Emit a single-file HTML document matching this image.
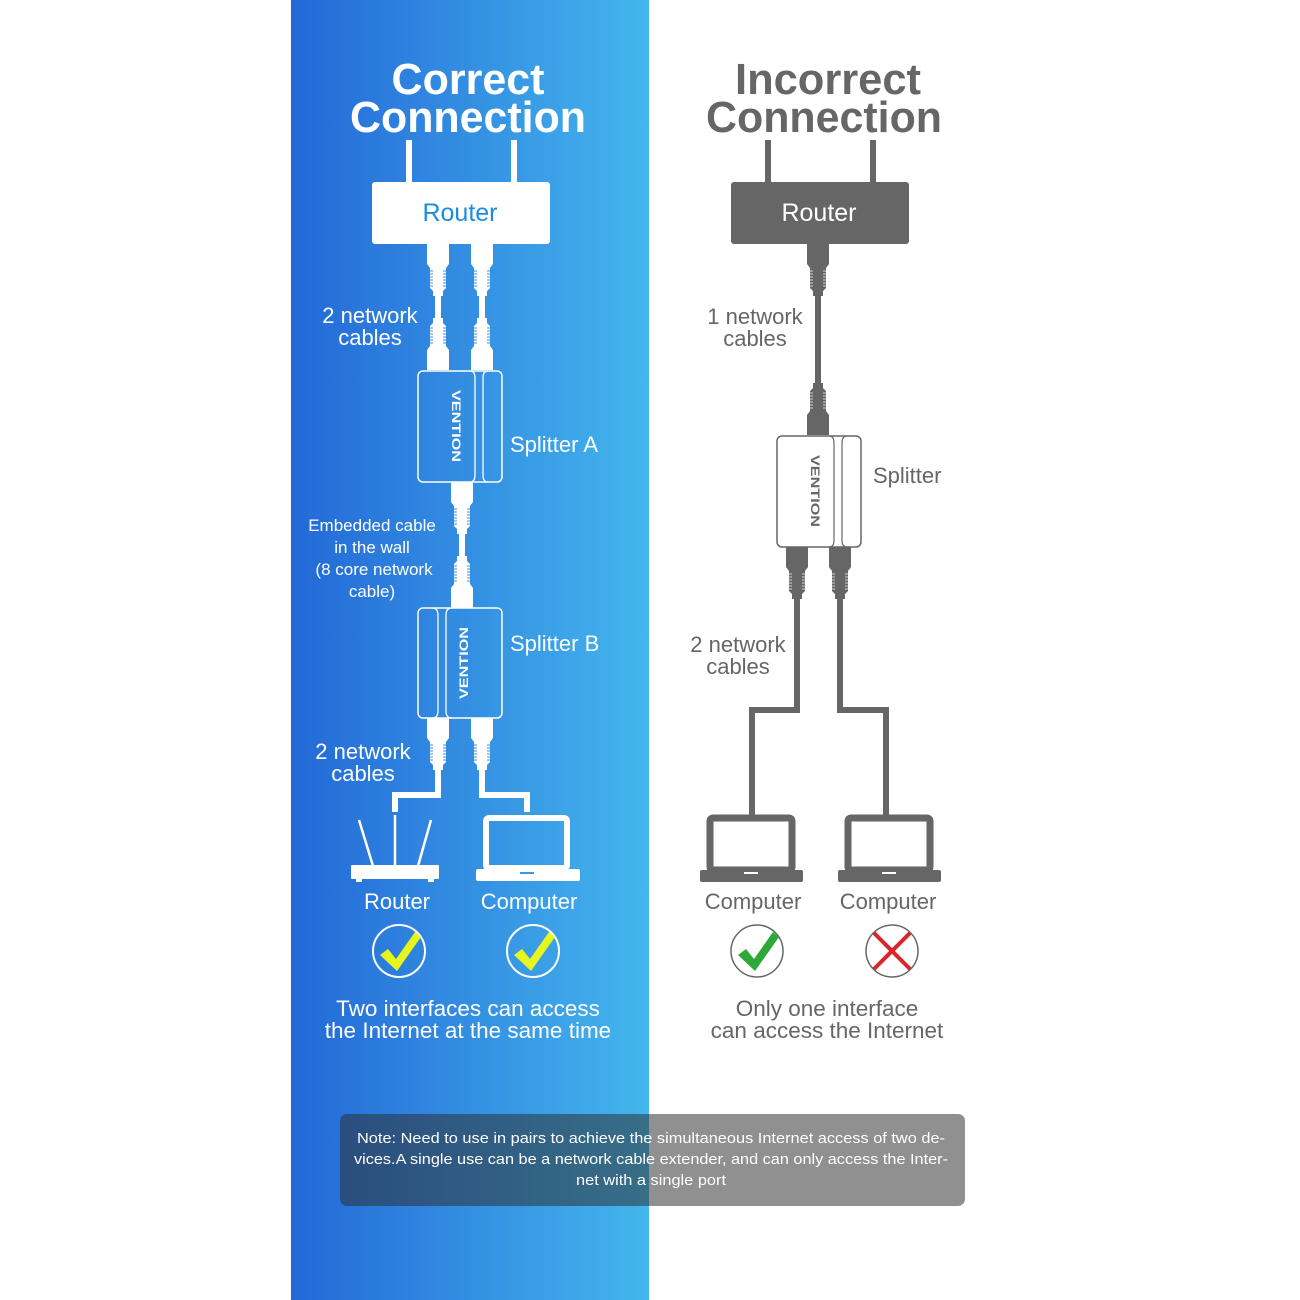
<!DOCTYPE html>
<html><head><meta charset="utf-8"><style>
html,body{margin:0;padding:0;background:#fff;}
svg{display:block;}
text{font-family:"Liberation Sans",sans-serif;}
</style></head><body>
<svg width="1300" height="1300" viewBox="0 0 1300 1300" xmlns="http://www.w3.org/2000/svg">
<defs>
<linearGradient id="bg" x1="0" y1="0" x2="1" y2="0">
<stop offset="0" stop-color="#2368d7"/><stop offset="1" stop-color="#44b6ed"/>
</linearGradient>
<g id="plugW">
<path d="M-11,0 H11 V20 L8,24 V44 L5,47 V52 H-5 V47 L-8,44 V24 L-11,20 Z" fill="#fff"/>
<g stroke="#3b8fe0" stroke-width="1">
<path d="M-8,27h3M-8,30h3M-8,33h3M-8,36h3M-8,39h3M-8,42h3M5,27h3M5,30h3M5,33h3M5,36h3M5,39h3M5,42h3"/>
</g>
</g>
<g id="plugG">
<path d="M-11,0 H11 V20 L8,24 V44 L5,47 V52 H-5 V47 L-8,44 V24 L-11,20 Z" fill="#666"/>
<g stroke="#fff" stroke-width="1" opacity="0.7">
<path d="M-8,27h3M-8,30h3M-8,33h3M-8,36h3M-8,39h3M-8,42h3M5,27h3M5,30h3M5,33h3M5,36h3M5,39h3M5,42h3"/>
</g>
</g>
</defs>
<rect width="1300" height="1300" fill="#fff"/>
<rect x="291" y="0" width="358" height="1300" fill="url(#bg)"/>

<text x="468" y="94" fill="#fff" font-size="44" font-weight="bold" text-anchor="middle" textLength="153" lengthAdjust="spacingAndGlyphs">Correct</text>
<text x="468" y="132" fill="#fff" font-size="44" font-weight="bold" text-anchor="middle" textLength="236" lengthAdjust="spacingAndGlyphs">Connection</text>
<rect x="406" y="140" width="6" height="44" fill="#fff"/>
<rect x="511" y="140" width="6" height="44" fill="#fff"/>
<rect x="372" y="182" width="178" height="62" rx="3" fill="#fff"/>
<text x="460" y="221" fill="#1a8de0" font-size="25" text-anchor="middle">Router</text>

<rect x="435" y="290" width="6" height="34" fill="#fff"/>
<rect x="479" y="290" width="6" height="34" fill="#fff"/>
<use href="#plugW" transform="translate(438,244)"/>
<use href="#plugW" transform="translate(482,244)"/>
<use href="#plugW" transform="translate(438,370) scale(1,-1)"/>
<use href="#plugW" transform="translate(482,370) scale(1,-1)"/>

<text x="370" y="323" fill="#fff" font-size="22" text-anchor="middle">2 network</text>
<text x="370" y="345" fill="#fff" font-size="22" text-anchor="middle">cables</text>

<rect x="418" y="371" width="84" height="111" rx="5" fill="none" stroke="#fff" stroke-width="1.5"/>
<path d="M470,371 Q475,371 475,378 V475 Q475,482 470,482" fill="none" stroke="#fff" stroke-width="1.3"/>
<path d="M488,371 Q483,371 483,378 V475 Q483,482 488,482" fill="none" stroke="#fff" stroke-width="1.3"/>
<text transform="translate(452,426) rotate(90)" fill="#fff" font-size="12" font-weight="bold" text-anchor="middle" textLength="72" lengthAdjust="spacingAndGlyphs">VENTION</text>
<text x="510" y="452" fill="#fff" font-size="22">Splitter A</text>

<rect x="459" y="528" width="6" height="34" fill="#fff"/>
<use href="#plugW" transform="translate(462,482)"/>
<use href="#plugW" transform="translate(462,608) scale(1,-1)"/>
<g fill="#fff" font-size="17" text-anchor="middle">
<text x="372" y="531">Embedded cable</text>
<text x="372" y="553">in the wall</text>
<text x="374" y="575">(8 core network</text>
<text x="372" y="597">cable)</text>
</g>

<rect x="418" y="608" width="84" height="110" rx="5" fill="none" stroke="#fff" stroke-width="1.5"/>
<path d="M432,608 Q438,608 438,615 V711 Q438,718 432,718" fill="none" stroke="#fff" stroke-width="1.3"/>
<path d="M452,608 Q446,608 446,615 V711 Q446,718 452,718" fill="none" stroke="#fff" stroke-width="1.3"/>
<text transform="translate(468,663) rotate(-90)" fill="#fff" font-size="12" font-weight="bold" text-anchor="middle" textLength="72" lengthAdjust="spacingAndGlyphs">VENTION</text>
<text x="510" y="651" fill="#fff" font-size="22">Splitter B</text>

<use href="#plugW" transform="translate(438,718)"/>
<use href="#plugW" transform="translate(482,718)"/>
<path d="M438,768 V795 H395 V812" fill="none" stroke="#fff" stroke-width="6"/>
<path d="M482,768 V795 H527 V812" fill="none" stroke="#fff" stroke-width="6"/>
<text x="363" y="759" fill="#fff" font-size="22" text-anchor="middle">2 network</text>
<text x="363" y="781" fill="#fff" font-size="22" text-anchor="middle">cables</text>

<g stroke="#fff" stroke-width="2.5">
<line x1="359" y1="820" x2="373" y2="866"/>
<line x1="395" y1="815" x2="395" y2="866"/>
<line x1="431" y1="820" x2="418" y2="866"/>
</g>
<rect x="351" y="865" width="88" height="14" rx="1" fill="#fff"/>
<rect x="356" y="878" width="6" height="4" fill="#fff"/><rect x="428" y="878" width="6" height="4" fill="#fff"/>
<rect x="486" y="818" width="81" height="50" rx="3" fill="none" stroke="#fff" stroke-width="6"/>
<rect x="476" y="869" width="104" height="12" rx="2" fill="#fff"/>
<rect x="520" y="872" width="14" height="2" fill="#3a9ae6"/>
<text x="397" y="909" fill="#fff" font-size="22" text-anchor="middle">Router</text>
<text x="529" y="909" fill="#fff" font-size="22" text-anchor="middle">Computer</text>
<circle cx="399" cy="951" r="26" fill="none" stroke="#fff" stroke-width="2"/>
<circle cx="533" cy="951" r="26" fill="none" stroke="#fff" stroke-width="2"/>
<path d="M380,955 L388,949 L396,959 L415,932 L421,937 L397,971 Z" fill="#e6f51d"/>
<path d="M514,955 L522,949 L530,959 L549,932 L555,937 L531,971 Z" fill="#e6f51d"/>
<text x="468" y="1016" fill="#fff" font-size="22.5" text-anchor="middle">Two interfaces can access</text>
<text x="468" y="1038" fill="#fff" font-size="22.5" text-anchor="middle">the Internet at the same time</text>

<text x="828" y="94" fill="#666" font-size="44" font-weight="bold" text-anchor="middle" textLength="186" lengthAdjust="spacingAndGlyphs">Incorrect</text>
<text x="824" y="132" fill="#666" font-size="44" font-weight="bold" text-anchor="middle" textLength="236" lengthAdjust="spacingAndGlyphs">Connection</text>
<rect x="765" y="140" width="6" height="44" fill="#666"/>
<rect x="870" y="140" width="6" height="44" fill="#666"/>
<rect x="731" y="182" width="178" height="62" rx="3" fill="#666"/>
<text x="819" y="221" fill="#fff" font-size="25" text-anchor="middle">Router</text>

<rect x="815" y="292" width="6" height="96" fill="#666"/>
<use href="#plugG" transform="translate(818,244)"/>
<use href="#plugG" transform="translate(818,435) scale(1,-1)"/>
<text x="755" y="324" fill="#666" font-size="22" text-anchor="middle">1 network</text>
<text x="755" y="346" fill="#666" font-size="22" text-anchor="middle">cables</text>

<rect x="777" y="436" width="84" height="111" rx="5" fill="#fff" stroke="#666" stroke-width="1.5"/>
<path d="M829,436 Q834,436 834,443 V540 Q834,547 829,547" fill="none" stroke="#666" stroke-width="1.2"/>
<path d="M847,436 Q842,436 842,443 V540 Q842,547 847,547" fill="none" stroke="#666" stroke-width="1.2"/>
<text transform="translate(811,491) rotate(90)" fill="#666" font-size="12" font-weight="bold" text-anchor="middle" textLength="72" lengthAdjust="spacingAndGlyphs">VENTION</text>
<text x="873" y="483" fill="#666" font-size="22">Splitter</text>

<use href="#plugG" transform="translate(797,547)"/>
<use href="#plugG" transform="translate(840,547)"/>
<path d="M797,597 V710 H752 V818" fill="none" stroke="#666" stroke-width="6"/>
<path d="M840,597 V710 H886 V818" fill="none" stroke="#666" stroke-width="6"/>
<text x="738" y="652" fill="#666" font-size="22" text-anchor="middle">2 network</text>
<text x="738" y="674" fill="#666" font-size="22" text-anchor="middle">cables</text>

<rect x="710" y="818" width="82" height="52" rx="3" fill="none" stroke="#666" stroke-width="7"/>
<rect x="700" y="870" width="103" height="12" rx="2" fill="#666"/>
<rect x="744" y="872" width="14" height="2" fill="#fff"/>
<rect x="848" y="818" width="82" height="52" rx="3" fill="none" stroke="#666" stroke-width="7"/>
<rect x="838" y="870" width="103" height="12" rx="2" fill="#666"/>
<rect x="882" y="872" width="14" height="2" fill="#fff"/>
<text x="753" y="909" fill="#666" font-size="22" text-anchor="middle">Computer</text>
<text x="888" y="909" fill="#666" font-size="22" text-anchor="middle">Computer</text>
<circle cx="757" cy="951" r="26" fill="none" stroke="#666" stroke-width="1.5"/>
<path d="M738,955 L746,949 L754,959 L773,932 L779,937 L755,971 Z" fill="#2fa83a"/>
<circle cx="892" cy="951" r="26" fill="none" stroke="#666" stroke-width="1.5"/>
<g stroke="#d9262b" stroke-width="4"><line x1="874" y1="933" x2="910" y2="969"/><line x1="910" y1="933" x2="874" y2="969"/></g>
<text x="827" y="1016" fill="#666" font-size="22.5" text-anchor="middle">Only one interface</text>
<text x="827" y="1038" fill="#666" font-size="22.5" text-anchor="middle">can access the Internet</text>

<rect x="340" y="1114" width="625" height="92" rx="7" fill="#2d2d2d" fill-opacity="0.53"/>
<g fill="#fff" font-size="15" text-anchor="middle">
<text x="651" y="1143" textLength="588" lengthAdjust="spacingAndGlyphs">Note: Need to use in pairs to achieve the simultaneous Internet access of two de-</text>
<text x="651" y="1164" textLength="594" lengthAdjust="spacingAndGlyphs">vices.A single use can be a network cable extender, and can only access the Inter-</text>
<text x="651" y="1185" textLength="150" lengthAdjust="spacingAndGlyphs">net with a single port</text>
</g>
</svg>
</body></html>
